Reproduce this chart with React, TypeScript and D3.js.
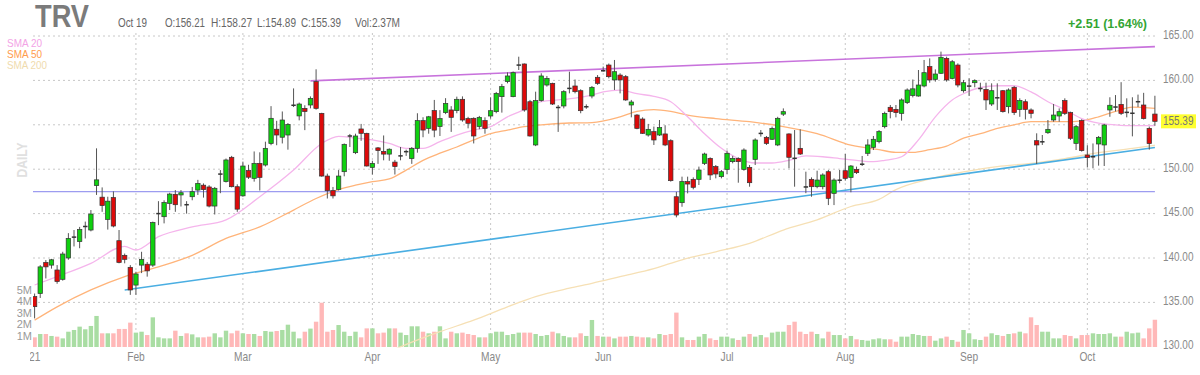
import React from "react";
import * as d3 from "d3";

// ---- Daily OHLC (Jan 5 2021 .. Oct 19 2021), volume in millions ----
const openP = [
  135.65, 136.0, 139.5, 139.2, 138.65, 137.6, 140.0, 142.3, 141.85, 143.5,
  143.15, 148.15, 146.85, 144.35, 146.8, 141.95, 140.3, 138.95, 136.95, 139.2,
  139.3, 139.2, 144.9, 144.65, 146.15, 147.17, 147.1, 146.05, 146.9, 147.65,
  148.2, 148.0, 145.85, 149.4, 148.6, 151.34, 148.03, 147.0, 149.85, 148.97,
  150.66, 150.47, 152.9, 154.5, 153.6, 153.85, 157.15, 156.0, 156.85, 157.23,
  159.86, 156.29, 149.23, 147.6, 147.73, 149.72, 153.7, 151.86, 154.53, 154.04,
  150.2, 152.4, 152.0, 151.7, 150.8, 151.45, 151.95, 151.2, 152.35, 155.47,
  154.6, 156.6, 154.8, 156.37, 156.67, 156.6, 157.87, 155.7, 155.73, 154.8,
  155.47, 155.99, 156.48, 158.17, 159.86, 158.17, 161.65, 161.85, 157.6, 152.73,
  157.72, 159.48, 159.67, 156.9, 157.12, 159.05, 159.37, 158.84, 157.0, 158.24,
  160.35, 161.05, 161.73, 160.05, 160.6, 160.42, 157.23, 156.1, 155.65, 153.85,
  154.23, 153.85, 153.97, 153.21, 146.9, 146.23, 148.6, 148.86, 148.86, 150.66,
  151.22, 150.29, 149.16, 149.98, 150.85, 151.22, 149.98, 150.21, 151.11, 153.98,
  153.59, 153.37, 152.73, 156.2, 153.97, 151.3, 152.35, 148.1, 148.86, 148.03,
  148.03, 149.72, 147.28, 148.7, 149.83, 149.08, 149.98, 150.5, 151.79, 152.46,
  153.1, 154.79, 156.97, 156.74, 156.29, 157.5, 158.3, 158.24, 159.37, 161.55,
  160.12, 160.8, 162.48, 160.23, 161.73, 158.84, 159.3, 159.74, 159.05, 158.99,
  157.34, 158.0, 158.84, 157.04, 159.22, 156.74, 157.6, 156.67, 153.21, 153.05,
  154.11, 155.54, 155.99, 157.72, 156.37, 152.91, 155.47, 151.6, 151.35, 152.84,
  152.73, 156.67, 156.95, 157.3, 156.3, 156.25, 157.55, 157.23, 154.6, 156.21,
];
const highP = [
  136.0, 139.2, 139.77, 139.9, 139.2, 140.7, 142.8, 143.15, 143.5, 144.1,
  145.4, 152.35, 147.95, 146.9, 147.5, 143.15, 140.5, 139.2, 138.45, 140.7,
  139.55, 144.1, 146.4, 146.5, 147.35, 147.65, 147.65, 146.4, 148.0, 148.8,
  148.4, 148.2, 148.0, 149.9, 151.2, 151.5, 148.3, 150.85, 150.5, 152.0,
  151.9, 153.1, 157.1, 155.45, 156.5, 155.2, 159.1, 157.5, 157.2, 158.2,
  161.25, 156.35, 149.5, 148.0, 149.9, 152.9, 153.97, 154.0, 155.1, 154.1,
  150.95, 152.5, 153.8, 152.35, 151.05, 152.5, 152.2, 152.5, 156.3, 155.85,
  156.0, 157.8, 156.65, 158.0, 157.1, 158.17, 158.2, 155.9, 155.84, 156.0,
  155.84, 158.1, 158.7, 159.6, 160.9, 161.0, 162.67, 161.9, 157.8, 158.73,
  160.8, 160.5, 159.74, 157.23, 158.9, 160.98, 160.1, 159.0, 157.3, 159.37,
  160.6, 161.55, 161.9, 162.3, 160.8, 160.6, 157.8, 156.2, 155.84, 155.1,
  154.8, 155.54, 154.95, 153.37, 147.45, 149.16, 149.16, 149.08, 150.29, 151.86,
  151.34, 150.47, 149.91, 152.1, 151.5, 151.34, 152.35, 150.47, 153.48, 154.41,
  153.74, 154.8, 155.9, 156.85, 154.04, 154.41, 154.49, 149.72, 149.08, 149.83,
  149.54, 149.91, 148.97, 149.91, 151.71, 150.47, 150.29, 151.49, 153.37, 153.74,
  154.41, 156.48, 157.23, 157.23, 157.98, 159.1, 160.1, 161.17, 162.3, 162.48,
  161.24, 163.24, 162.67, 162.3, 161.92, 160.05, 160.23, 160.12, 159.74, 159.74,
  159.67, 159.67, 158.92, 159.1, 159.37, 157.98, 157.87, 156.85, 154.04, 153.85,
  155.54, 157.34, 156.85, 157.98, 156.48, 154.98, 155.62, 152.7, 152.9, 153.74,
  155.1, 158.1, 158.35, 159.8, 157.98, 158.1, 158.4, 158.6, 154.8, 158.27,
];
const lowP = [
  133.2, 135.5, 137.7, 138.8, 137.1, 137.45, 139.8, 141.3, 141.1, 142.2,
  143.0, 147.1, 145.2, 143.2, 143.45, 139.4, 139.4, 135.85, 135.85, 138.3,
  137.9, 139.0, 143.7, 143.9, 145.4, 145.2, 145.8, 145.0, 146.5, 147.1,
  146.8, 145.7, 144.9, 147.3, 148.5, 147.95, 145.2, 146.9, 148.9, 148.6,
  147.6, 150.3, 152.7, 152.7, 152.9, 152.2, 157.0, 155.5, 154.4, 156.85,
  156.7, 149.15, 146.7, 146.7, 147.6, 149.2, 152.5, 151.7, 153.2, 150.3,
  149.4, 150.6, 151.0, 150.95, 149.4, 151.0, 151.5, 150.6, 151.86, 153.6,
  154.0, 153.6, 153.74, 156.2, 154.2, 156.3, 155.35, 154.6, 152.9, 154.5,
  154.0, 155.7, 156.3, 156.37, 159.67, 158.1, 161.17, 156.48, 153.67, 152.6,
  157.6, 159.3, 157.23, 154.2, 156.85, 158.54, 158.54, 156.3, 156.8, 157.98,
  159.5, 161.0, 160.23, 158.92, 158.54, 157.7, 155.84, 154.5, 153.97, 153.67,
  152.73, 153.74, 152.6, 148.6, 144.58, 145.77, 147.28, 147.73, 148.22, 150.47,
  148.78, 148.97, 148.97, 149.46, 150.66, 148.48, 149.83, 148.03, 150.47, 153.67,
  152.73, 153.29, 152.6, 155.99, 150.1, 148.03, 151.6, 147.3, 146.9, 147.85,
  147.73, 145.96, 145.96, 148.41, 148.71, 147.4, 149.46, 150.36, 151.49, 152.16,
  152.91, 154.6, 155.73, 155.84, 155.47, 157.34, 158.09, 158.17, 159.22, 159.74,
  159.86, 160.72, 159.86, 160.12, 159.22, 158.62, 158.24, 159.22, 158.73, 156.67,
  157.12, 156.67, 156.37, 156.29, 156.1, 155.9, 155.6, 155.73, 150.58, 152.73,
  153.97, 155.35, 155.35, 156.1, 153.29, 152.16, 151.98, 150.2, 150.1, 150.4,
  150.36, 155.9, 156.5, 156.1, 155.84, 153.7, 157.0, 155.6, 152.2, 154.89,
];
const closeP = [
  134.52, 139.0, 139.0, 139.8, 137.35, 140.45, 142.2, 142.4, 143.2, 143.6,
  144.95, 148.8, 145.9, 146.4, 143.6, 139.5, 139.85, 136.4, 138.2, 139.85,
  138.55, 144.0, 145.1, 146.25, 147.2, 146.0, 147.35, 145.95, 147.47, 148.4,
  147.7, 145.85, 147.85, 149.5, 151.04, 148.03, 145.5, 150.36, 149.1, 150.66,
  149.08, 152.35, 155.73, 153.85, 155.54, 155.05, 157.25, 157.34, 156.5, 157.98,
  156.85, 149.23, 147.58, 147.0, 149.23, 152.8, 153.78, 153.74, 154.04, 150.36,
  150.66, 152.1, 151.7, 152.25, 150.3, 151.55, 152.0, 152.35, 155.47, 154.41,
  155.9, 154.4, 155.7, 157.4, 155.84, 157.87, 155.54, 155.17, 153.74, 155.84,
  154.6, 156.59, 158.54, 159.3, 160.5, 160.87, 161.8, 156.67, 153.74, 157.72,
  160.5, 160.23, 157.34, 157.0, 158.73, 159.15, 158.73, 156.59, 157.06, 159.22,
  159.67, 161.12, 160.42, 160.98, 160.05, 157.8, 157.57, 154.6, 154.04, 154.49,
  153.29, 154.68, 152.73, 148.71, 144.84, 148.6, 148.33, 147.96, 149.91, 151.71,
  149.35, 149.46, 149.72, 151.79, 151.22, 150.85, 152.16, 148.48, 153.29, 154.08,
  152.91, 154.6, 155.73, 156.48, 151.34, 151.15, 151.71, 147.9, 148.03, 148.78,
  149.35, 146.72, 148.78, 148.82, 148.97, 150.36, 149.61, 150.62, 152.73, 153.37,
  154.23, 156.29, 156.48, 156.37, 157.8, 158.92, 159.05, 159.48, 160.87, 160.05,
  160.72, 162.6, 160.05, 162.1, 159.48, 159.74, 159.42, 159.97, 159.12, 157.8,
  158.84, 158.08, 156.48, 158.92, 156.37, 157.72, 156.74, 156.29, 152.73, 153.12,
  154.49, 156.1, 156.48, 156.29, 153.48, 154.79, 152.09, 151.3, 151.45, 153.59,
  154.98, 157.2, 157.05, 156.29, 156.5, 156.35, 157.65, 155.7, 152.88, 155.39,
];
const volM = [
  0.84, 1.13, 1.13, 0.96, 0.9, 0.75, 1.33, 1.48, 1.77, 1.54,
  1.83, 2.7, 1.19, 1.19, 1.19, 1.57, 1.57, 2.12, 1.25, 1.33,
  1.04, 2.58, 0.84, 0.75, 0.75, 1.42, 0.96, 1.19, 1.1, 0.84,
  0.84, 0.9, 1.19, 0.84, 1.42, 1.19, 1.42, 1.19, 1.13, 1.13,
  0.96, 1.39, 1.33, 1.39, 1.48, 1.94, 1.33, 0.75, 1.33, 1.6,
  2.2, 3.85, 1.33, 1.48, 1.91, 1.33, 0.96, 1.33, 0.84, 1.62,
  1.62, 1.19, 1.25, 1.62, 1.62, 1.25, 1.04, 1.8, 1.8, 1.33,
  1.19, 1.33, 1.8, 0.75, 1.33, 1.19, 1.25, 1.13, 1.04, 0.84,
  0.84, 1.19, 1.33, 1.33, 1.04, 1.13, 1.25, 1.25, 1.25, 1.13,
  0.96, 1.04, 1.33, 1.19, 0.96, 0.84, 0.84, 1.19, 0.96, 2.35,
  0.96, 0.9, 0.9, 0.75, 0.9, 0.9, 0.96, 0.9, 0.84, 0.84,
  0.75, 1.13, 1.04, 1.13, 2.99, 0.84, 0.61, 0.61, 0.9, 1.13,
  0.75, 0.61, 0.9, 0.9, 0.75, 0.61, 0.9, 1.13, 0.9, 1.04,
  0.84, 1.25, 1.33, 1.33, 1.91, 2.2, 1.33, 1.13, 1.33, 1.13,
  0.75, 1.33, 1.04, 1.04, 0.75, 0.96, 0.67, 0.61, 0.55, 0.67,
  0.75, 0.67, 0.67, 0.46, 0.9, 0.9, 1.13, 1.04, 0.96, 0.96,
  0.55, 0.75, 0.9, 0.61, 0.46, 1.48, 1.19, 0.67, 0.61, 0.9,
  1.19, 1.04, 0.96, 1.13, 1.19, 1.33, 1.19, 2.58, 1.91, 1.33,
  1.33, 0.75, 0.75, 1.04, 0.96, 0.75, 1.04, 1.04, 1.19, 1.13,
  1.13, 1.19, 0.9, 0.9, 1.33, 1.19, 1.25, 0.75, 1.62, 2.37,
];

// ---- Axis labels ----
const monthLabels = ["2021", "Feb", "Mar", "Apr", "May", "Jun", "Jul", "Aug", "Sep", "Oct"];
const monthIdx = [-1, 18, 37, 60, 81, 101, 123, 144, 166, 187];
const priceTicks = [130, 135, 140, 145, 150, 155, 160, 165];
const volTicks = [1, 2, 3, 4, 5];

// ---- Moving averages (read at sample days) ----
const sma20Idx = [0, 4, 10, 16, 18, 22, 28, 34, 40, 46, 51, 54, 57, 60, 63, 66, 69, 72, 75, 78, 81, 84, 87, 90, 93, 96, 99, 101, 104, 107, 110, 113, 116, 119, 122, 125, 128, 131, 134, 137, 140, 143, 146, 149, 151, 154, 157, 160, 163, 165, 168, 171, 174, 177, 180, 183, 186, 189, 192, 195, 199];
const sma20Val = [136.96, 137.9, 139.4, 141.3, 140.9, 142.4, 143.5, 144.3, 146.9, 149.9, 152.9, 153.7, 153.5, 153.3, 152.9, 152.35, 152.35, 153.1, 153.85, 154.4, 154.8, 155.9, 156.7, 157.6, 157.8, 158.0, 158.35, 158.7, 158.9, 158.5, 158.2, 157.6, 155.9, 154.0, 152.35, 151.2, 150.7, 150.7, 151.0, 151.5, 151.4, 151.2, 151.0, 150.85, 151.0, 151.4, 153.3, 155.9, 157.8, 158.5, 159.2, 159.4, 159.4, 158.7, 157.6, 156.7, 155.7, 155.2, 155.0, 154.9, 154.9];
const sma50Idx = [0, 4, 10, 16, 22, 28, 34, 40, 46, 50, 54, 57, 60, 63, 66, 69, 72, 75, 78, 81, 84, 87, 90, 95, 99, 104, 107, 110, 113, 116, 121, 127, 133, 139, 145, 150, 153, 156, 159, 162, 165, 168, 171, 174, 177, 183, 186, 189, 192, 195, 199];
const sma50Val = [133.0, 134.5, 136.4, 137.9, 139.0, 140.3, 142.2, 143.5, 145.4, 146.7, 147.7, 148.2, 148.6, 148.9, 149.9, 151.0, 151.8, 152.5, 153.3, 154.0, 154.4, 154.8, 155.0, 155.2, 155.25, 155.9, 156.5, 156.7, 156.5, 156.1, 155.7, 155.35, 154.8, 154.0, 152.7, 152.2, 151.9, 151.9, 152.2, 152.6, 153.5, 154.0, 154.6, 155.0, 155.35, 155.35, 155.45, 155.9, 156.5, 157.0, 156.85];
const sma200Idx = [60, 65, 72, 78, 84, 89, 95, 99, 104, 110, 115, 121, 127, 133, 139, 145, 150, 153, 159, 165, 171, 177, 183, 189, 195, 199];
const sma200Val = [128.6, 130.0, 131.7, 133.0, 134.5, 135.65, 136.6, 137.15, 137.9, 138.8, 139.8, 140.7, 141.65, 143.15, 144.3, 145.8, 146.6, 147.7, 148.9, 149.7, 150.3, 150.66, 151.2, 151.86, 152.35, 152.7];

// ---- Drawn trend lines ----
const resistIdx = [49, 199];
const resistVal = [159.95, 163.8];
const supportIdx = [16, 199];
const supportVal = [136.4, 152.45];
const levelVal = [147.47];

const FONT = "'Liberation Sans', Arial, sans-serif";

export default function App() {
  const x = d3.scaleLinear().domain([0, 199]).range([34.6, 1154.9]);
  const y = d3.scaleLinear().domain([130, 165]).range([346.8, 36]);
  const vy = d3.scaleLinear().domain([0, 5]).range([347, 289.5]);
  const left = 33;
  const right = 1158;

  const smaPath = (idx: number[], val: number[]) =>
    d3
      .line<number>()
      .x((_, k) => x(idx[k]))
      .y((d) => y(d))
      .curve(d3.curveMonotoneX)(val) || "";

  const trendPath = (idx: number[], val: number[]) =>
    d3
      .line<number>()
      .x((_, k) => x(idx[k]))
      .y((d) => y(d))(val) || "";

  const bodyW = 4.4;
  const last = closeP.length - 1;
  const lastClose = closeP[last];
  const change = lastClose - closeP[last - 1];
  const changeStr = `+${change.toFixed(2)} (${((change / closeP[last - 1]) * 100).toFixed(2)}%)`;
  const ohlc = [
    { s: `O:${openP[last].toFixed(2)}`, x: 165, w: 40 },
    { s: `H:${highP[last].toFixed(2)}`, x: 211, w: 41 },
    { s: `L:${lowP[last].toFixed(2)}`, x: 257, w: 39 },
    { s: `C:${lastClose.toFixed(2)}`, x: 301, w: 40 },
  ];
  const volStr = `Vol:${volM[last].toFixed(2)}M`;

  return (
    <svg
      width={1200}
      height={375}
      style={{ position: "absolute", left: 0, top: 0, background: "#fff" }}
      fontFamily={FONT}
    >
      <defs>
        <clipPath id="plot">
          <rect x={left} y={30} width={right - left} height={317.5} />
        </clipPath>
        <clipPath id="xlab">
          <rect x={30} y={340} width={1170} height={35} />
        </clipPath>
      </defs>

      {/* grid */}
      {priceTicks
        .filter((p) => p > 130)
        .map((p) => (
          <line
            key={"h" + p}
            x1={left}
            x2={right}
            y1={y(p)}
            y2={y(p)}
            stroke="#c8c8c8"
            strokeDasharray="2,3"
            strokeWidth={1}
          />
        ))}
      {monthIdx
        .filter((m) => m >= 0)
        .map((m) => (
          <line
            key={"v" + m}
            x1={x(m)}
            x2={x(m)}
            y1={33}
            y2={348}
            stroke="#c8c8c8"
            strokeDasharray="2,3"
            strokeWidth={1}
          />
        ))}

      <g clipPath="url(#plot)">
        {/* volume */}
        {volM.map((v, i) => (
          <rect
            key={"vol" + i}
            x={x(i) - 2.2}
            y={vy(v)}
            width={4.4}
            height={vy(0) - vy(v)}
            fill={closeP[i] >= openP[i] ? "#a9dda3" : "#ffb8b8"}
          />
        ))}

        {/* moving averages */}
        <path d={smaPath(sma200Idx, sma200Val)} fill="none" stroke="#f6e0b5" strokeWidth={1.3} />
        <path d={smaPath(sma50Idx, sma50Val)} fill="none" stroke="#ffb47a" strokeWidth={1.3} />
        <path d={smaPath(sma20Idx, sma20Val)} fill="none" stroke="#f5b5ec" strokeWidth={1.3} />

        {/* trend lines */}
        <line
          x1={left}
          x2={x(199)}
          y1={y(levelVal[0])}
          y2={y(levelVal[0])}
          stroke="#9d9cf0"
          strokeWidth={1.2}
        />
        <path d={trendPath(supportIdx, supportVal)} fill="none" stroke="#4aaee2" strokeWidth={1.6} />
        <path d={trendPath(resistIdx, resistVal)} fill="none" stroke="#c873dc" strokeWidth={1.6} />

        {/* candles */}
        {openP.map((o, i) => {
          const c = closeP[i];
          const up = c >= o;
          const top = y(Math.max(o, c));
          const bot = y(Math.min(o, c));
          const h = Math.max(1, bot - top);
          const doji = Math.abs(c - o) < 0.2;
          return (
            <g key={"c" + i}>
              <line
                x1={x(i)}
                x2={x(i)}
                y1={y(highP[i])}
                y2={y(lowP[i])}
                stroke="#555"
                strokeWidth={1}
              />
              <rect
                x={x(i) - bodyW / 2}
                y={doji ? (top + bot) / 2 - 0.75 : top}
                width={bodyW}
                height={doji ? 1.5 : h}
                fill={doji ? "#333" : up ? "#0fd00f" : "#dd0a0a"}
                stroke="#333"
                strokeWidth={doji ? 0 : 0.7}
              />
            </g>
          );
        })}
      </g>

      {/* header */}
      <text x={35} y={27} fontSize={31} fontWeight="bold" fill="#7b7b7b" textLength={54} lengthAdjust="spacingAndGlyphs">
        TRV
      </text>
      <text x={118} y={27} fontSize={12} fill="#666" textLength={29} lengthAdjust="spacingAndGlyphs">
        Oct 19
      </text>
      {ohlc.map((t) => (
        <text key={t.s} x={t.x} y={27} fontSize={12} fill="#666" textLength={t.w} lengthAdjust="spacingAndGlyphs">
          {t.s}
        </text>
      ))}
      <text x={355} y={27} fontSize={12} fill="#666" textLength={45} lengthAdjust="spacingAndGlyphs">
        {volStr}
      </text>
      <text x={1068} y={28} fontSize={12.5} fontWeight="bold" fill="#33a533" textLength={79} lengthAdjust="spacingAndGlyphs">
        {changeStr}
      </text>

      {/* legend */}
      <text x={7} y={47} fontSize={11} fill="#f3a3e6" textLength={35} lengthAdjust="spacingAndGlyphs">SMA 20</text>
      <text x={7} y={58} fontSize={11} fill="#ff9c4d" textLength={35} lengthAdjust="spacingAndGlyphs">SMA 50</text>
      <text x={7} y={69} fontSize={11} fill="#f0dbad" textLength={40} lengthAdjust="spacingAndGlyphs">SMA 200</text>

      {/* DAILY */}
      <text
        transform="translate(27,160) rotate(-90)"
        textAnchor="middle"
        fontSize={15}
        fontWeight="bold"
        fill="#e0e0e0"
        textLength={35}
        lengthAdjust="spacingAndGlyphs"
      >
        DAILY
      </text>

      {/* y axis labels */}
      {priceTicks.map((p) => (
        <text
          key={"yl" + p}
          transform={`translate(1163,${y(p) + 2.5}) scale(0.83,1)`}
          fontSize={12}
          fill="#8a8a8a"
        >
          {p.toFixed(2)}
        </text>
      ))}
      <rect x={1161} y={y(lastClose) - 7} width={35} height={14} fill="#ffff30" />
      <text
        transform={`translate(1163,${y(lastClose) + 4}) scale(0.83,1)`}
        fontSize={12}
        fill="#777"
      >
        {lastClose.toFixed(2)}
      </text>

      {/* volume labels */}
      {volTicks.map((v) => (
        <text key={"vl" + v} x={32} y={vy(v) + 4} fontSize={11} fill="#999" textAnchor="end">
          {`${v}M`}
        </text>
      ))}

      {/* x labels */}
      <g clipPath="url(#xlab)">
        {monthIdx.map((m, k) => (
          <text
            key={"xl" + k}
            transform={`translate(${x(m)},361) scale(0.85,1)`}
            fontSize={12}
            fill="#8a8a8a"
            textAnchor="middle"
          >
            {monthLabels[k]}
          </text>
        ))}
      </g>
    </svg>
  );
}
